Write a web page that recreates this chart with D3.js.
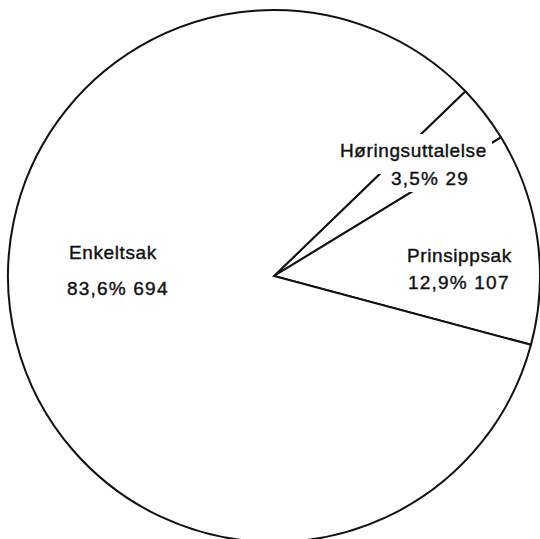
<!DOCTYPE html>
<html>
<head>
<meta charset="utf-8">
<script src="https://cdn.jsdelivr.net/npm/d3@7"></script>
<style>
  html, body { margin: 0; padding: 0; background: #fff; }
  svg { display: block; }
  text { font-family: "Liberation Sans", Arial, sans-serif; font-size: 19px; fill: #111; stroke: #111; stroke-width: 0.4px; letter-spacing: 0.6px; }
  text.num { letter-spacing: 1.2px; }
</style>
</head>
<body>
<svg id="chart"></svg>
<script>
const categories = ['Høringsuttalelse', 'Prinsippsak', 'Enkeltsak'];
const counts = [29, 107, 694];
const percents = ['3,5%', '12,9%', '83,6%'];

// where each label block sits, relative to the pie centre
const labelPos = [
  { l1: [66, -119], l2: [117, -91] },
  { l1: [133, -14], l2: [134, 13] },
  { l1: [-205, -17], l2: [-207, 19] }
];

const width = 540;
const height = 539;
const cx = 274;
const cy = 276;
const radius = 266;

const svg = d3.select('#chart').attr('width', width).attr('height', height);

const data = categories.map((c, i) => ({ name: c, count: counts[i], pct: percents[i], pos: labelPos[i] }));

const start = 46 * Math.PI / 180;
const pie = d3.pie().value((d) => d.count).sort(null).startAngle(start).endAngle(start + 2 * Math.PI);
const arc = d3.arc().innerRadius(0).outerRadius(radius);

const g = svg.append('g').attr('transform', `translate(${cx},${cy})`);

g.selectAll('path')
  .data(pie(data))
  .join('path')
  .attr('d', arc)
  .attr('fill', '#fff')
  .attr('stroke', '#111')
  .attr('stroke-width', 2)
  .attr('stroke-linejoin', 'miter');

const labels = g.selectAll('g.label')
  .data(data)
  .join('g')
  .attr('class', 'label');

// white patches behind the small label, the lines are broken there in the original
labels.filter((d, i) => i === 0).each(function (d) {
  const sel = d3.select(this);
  sel.append('rect').attr('x', d.pos.l1[0] - 4).attr('y', -142).attr('width', 156).attr('height', 40).attr('fill', '#fff');
  sel.append('rect').attr('x', d.pos.l2[0] - 3).attr('y', -102).attr('width', 106).attr('height', 18).attr('fill', '#fff');
});

labels.append('text')
  .attr('x', (d) => d.pos.l1[0])
  .attr('y', (d) => d.pos.l1[1])
  .text((d) => d.name);

labels.append('text')
  .attr('class', 'num')
  .attr('x', (d) => d.pos.l2[0])
  .attr('y', (d) => d.pos.l2[1])
  .text((d) => `${d.pct} ${d.count}`);
</script>
</body>
</html>
